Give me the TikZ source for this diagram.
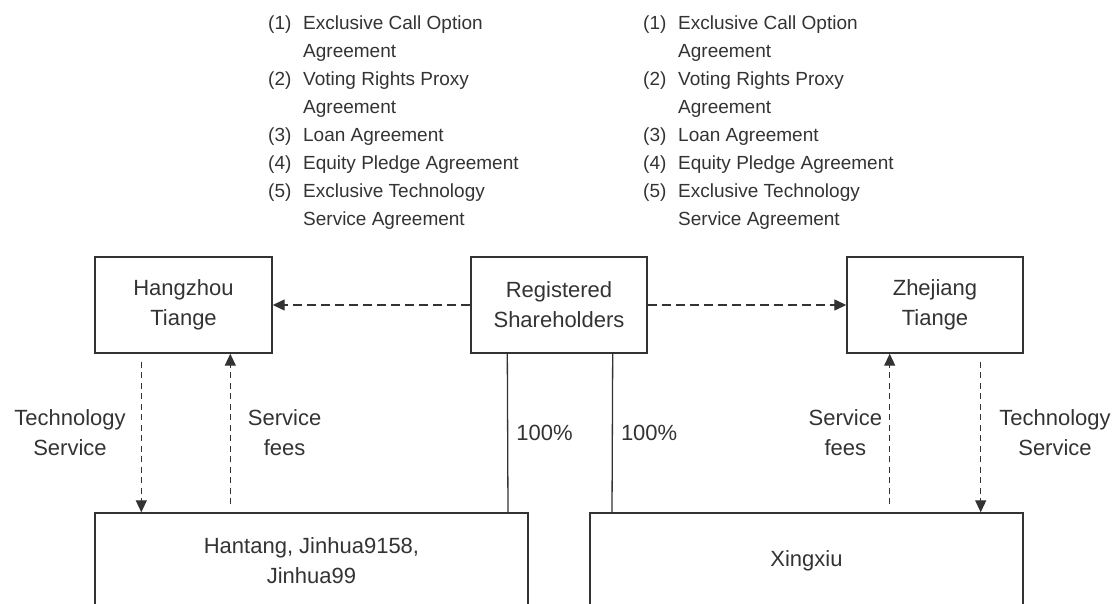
\documentclass[tikz,border=0pt]{standalone}
\usepackage{fontspec}
\setmainfont{Liberation Sans}
\usetikzlibrary{arrows.meta}
\definecolor{inkgray}{HTML}{333333}
\begin{document}
\begin{tikzpicture}[x=1pt,y=-1pt,
  every node/.style={text=inkgray},
  box/.style={draw=inkgray, line width=1.4pt, align=center, inner sep=0pt, font=\fontsize{22}{30}\selectfont},
  lbl/.style={align=center, inner sep=0pt, font=\fontsize{22}{30}\selectfont},
  hlink/.style={draw=inkgray, line width=1.3pt, dash pattern=on 9pt off 5pt, -{Triangle[length=12pt,width=11pt]}},
  vlink/.style={draw=inkgray, line width=1.3pt, dash pattern=on 6pt off 4.5pt, shorten <=8pt, -{Triangle[length=12pt,width=11pt]}},
  owns/.style={draw=inkgray, line width=1.3pt}]
\clip (0,0) rectangle (1115,604);
% agreement lists
\foreach \lx [count=\i] in {268,643}
  \node[anchor=base west, inner sep=0pt, font=\fontsize{19}{28}\selectfont] (list\i) at (\lx,30) {\begin{tabular}[t]{@{}p{35pt}@{}l@{}}
  (1) & Exclusive Call Option\\ & Agreement\\
  (2) & Voting Rights Proxy\\ & Agreement\\
  (3) & Loan Agreement\\
  (4) & Equity Pledge Agreement\\
  (5) & Exclusive Technology\\ & Service Agreement
  \end{tabular}};
% boxes
\node[box, minimum width=177pt, minimum height=96pt] (hz) at (183.5,305) {Hangzhou\\Tiange};
\node[box, minimum width=176pt, minimum height=96pt] (rs) at (559,305) {Registered\\Shareholders};
\node[box, minimum width=176pt, minimum height=96pt] (zt) at (935,305) {Zhejiang\\Tiange};
\node[box, minimum width=433pt, minimum height=96pt] (ht) at (311.5,561) {Hantang, Jinhua9158,\\Jinhua99};
\node[box, minimum width=433pt, minimum height=96pt] (xx) at (806.5,561) {Xingxiu};
% contractual arrangements
\draw[hlink] (rs.west) -- (hz.east);
\draw[hlink] (rs.east) -- (zt.west);
% ownership
\draw[owns] ([xshift=37pt]rs.south west) -- ([xshift=196.5pt]ht.north) node[midway, anchor=west, xshift=8pt, lbl] {100\%};
\draw[owns] ([xshift=-35pt]rs.south east) -- ([xshift=-194.5pt]xx.north) node[midway, anchor=west, xshift=8pt, lbl] {100\%};
% services and fees
\draw[vlink] ([xshift=47pt]hz.south west) -- ([xshift=47pt]ht.north west) node[midway, anchor=east, xshift=-15pt, lbl] {Technology\\Service};
\draw[vlink] ([xshift=136pt]ht.north west) -- ([xshift=136pt]hz.south west) node[midway, anchor=west, xshift=17pt, lbl] {Service\\fees};
\draw[vlink] ([xshift=-134pt]xx.north east) -- ([xshift=-134pt]zt.south east) node[midway, anchor=east, xshift=-7pt, lbl] {Service\\fees};
\draw[vlink] ([xshift=-43pt]zt.south east) -- ([xshift=-43pt]xx.north east) node[midway, anchor=west, xshift=18pt, lbl] {Technology\\Service};
\end{tikzpicture}
\end{document}
